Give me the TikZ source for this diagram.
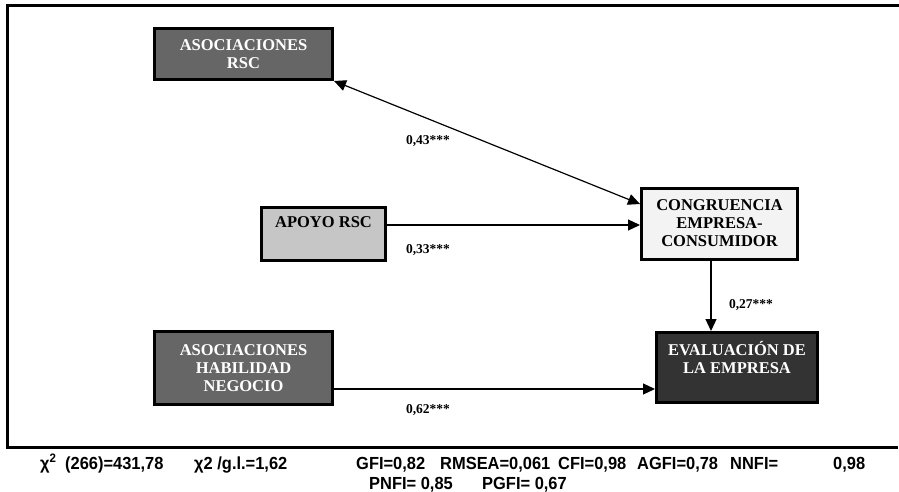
\documentclass[tikz,border=0pt]{standalone}
\usepackage{fontspec}
\setmainfont{Liberation Serif}
\newfontfamily\statfont[FakeStretch=0.94]{Liberation Sans}
\usetikzlibrary{arrows.meta,positioning,calc}
\definecolor{midgray}{HTML}{666666}
\definecolor{lightgray}{HTML}{C6C6C6}
\definecolor{palegray}{HTML}{F3F3F3}
\definecolor{darkgray}{HTML}{333333}

\begin{document}
\begin{tikzpicture}[x=1pt,y=-1pt,
  box/.style={draw=black,line width=3pt,inner sep=0pt},
  boxtext/.style={font=\fontsize{16.5}{18}\selectfont\bfseries,align=center,inner sep=0pt},
  coef/.style={font=\fontsize{13.5}{15}\selectfont\bfseries,inner sep=0pt},
  tip/.tip={Triangle[length=12pt,width=11pt]},
  link/.style={line width=1.2pt,-tip},
  stat/.style={font=\statfont\fontsize{17.5}{20}\selectfont\bfseries,inner sep=0pt,anchor=base west}]
\useasboundingbox (0,0) rectangle (899,492);
% outer frame, open on the right
\draw[line width=3pt] (899,6) -- (7,6) -- (7,447) -- (898,447);
% boxes
\node[box,fill=midgray,minimum width=178pt,minimum height=51pt] (arsc) at (243.5,54) {};
\node[box,fill=lightgray,minimum width=124pt,minimum height=53pt] (apoyo) at (323.5,234) {};
\node[box,fill=palegray,minimum width=156pt,minimum height=71pt] (congr) at (719.5,224) {};
\node[box,fill=midgray,minimum width=178pt,minimum height=73pt] (hab) at (243.5,368) {};
\node[box,fill=darkgray,minimum width=161pt,minimum height=70pt] (eval) at (737,367.5) {};
% box texts
\node[boxtext,text=white,below=12pt of arsc.north] (arsc-t) {ASOCIACIONES\\RSC};
\node[boxtext,below=10pt of apoyo.north] (apoyo-t) {APOYO RSC};
\node[boxtext,below=12.5pt of congr.north] (congr-t) {CONGRUENCIA\\EMPRESA-\\CONSUMIDOR};
\node[boxtext,text=white,below=14pt of hab.north] (hab-t) {ASOCIACIONES\\HABILIDAD\\NEGOCIO};
\node[boxtext,text=white,below=10pt of eval.north] (eval-t) {EVALUACIÓN DE\\LA EMPRESA};
% paths
\coordinate (c1) at ($(congr.west)+(0,-20)$);
\draw[link,tip-tip] (arsc.south east) -- (c1);
\coordinate (a1) at ($(apoyo.east)+(0,-9)$);
\draw[link] (a1) -- (a1 -| congr.west);
\coordinate (g1) at ($(congr.south)+(-8.5,0)$);
\draw[link] (g1) -- (g1 |- eval.north);
\coordinate (h1) at ($(hab.east)+(0,21)$);
\draw[link] (h1) -- (h1 -| eval.west);
% coefficients
\node[coef] (k1) at (428,141) {0,43***};
\node[coef] (k2) at (428,250) {0,33***};
\node[coef] (k3) at (751,305) {0,27***};
\node[coef] (k4) at (428,410) {0,62***};
% fit indices
\node[stat] (fit1) at (40,469) {χ\textsuperscript{2}\hspace{4pt} (266)=431,78};
\node[stat] (fit2) at (194,469) {χ2 /g.l.=1,62};
\node[stat] (fit3) at (356,469) {GFI=0,82};
\node[stat] (fit4) at (440,469) {RMSEA=0,061};
\node[stat] (fit5) at (558,469) {CFI=0,98};
\node[stat] (fit6) at (637,469) {AGFI=0,78};
\node[stat] (fit7) at (730,469) {NNFI=};
\node[stat] (fit8) at (833,469) {0,98};
\node[stat] (fit9) at (369,489) {PNFI= 0,85};
\node[stat] (fit10) at (482,489) {PGFI= 0,67};
\end{tikzpicture}
\end{document}
